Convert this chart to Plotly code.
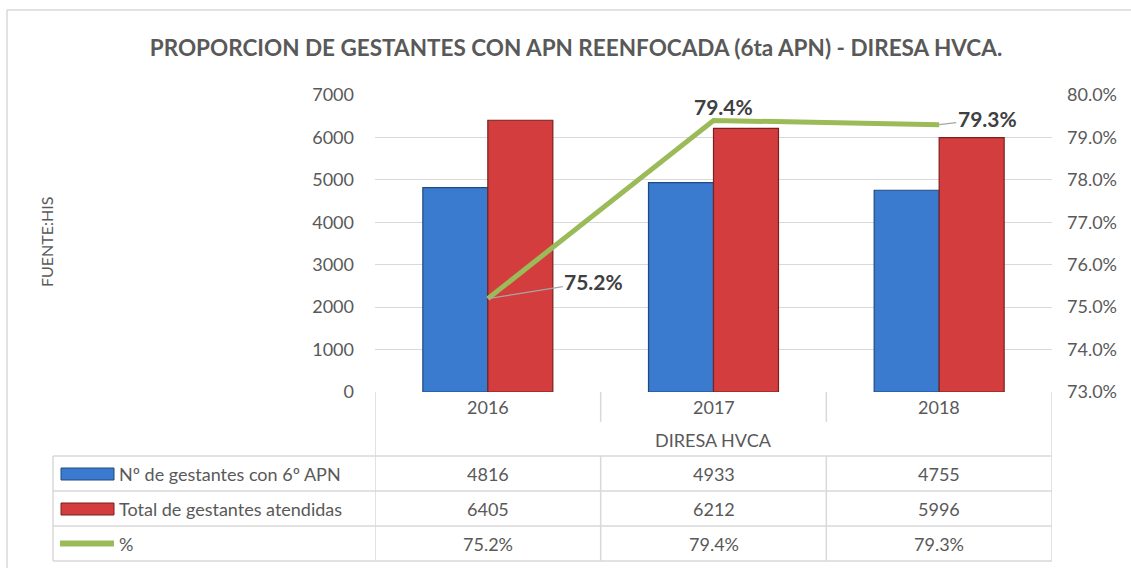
import plotly.graph_objects as go

# ---- data ----
categories = ["2016", "2017", "2018"]
group_label = "DIRESA HVCA"
series_names = ["Nº de gestantes con 6º APN", "Total de gestantes atendidas", "%"]
gestantes_6apn = [4816, 4933, 4755]
total_atendidas = [6405, 6212, 5996]
porcentaje = [0.752, 0.794, 0.793]
title_text = "PROPORCION DE GESTANTES CON APN REENFOCADA (6ta APN) - DIRESA HVCA."
source_text = "FUENTE:HIS"

W, H = 1131, 568
L, R, T, B = 375, 1052, 95, 392
FONT = "Lato"
GRAY = "#595959"
GRID = "#d9d9d9"
TXT = 18


def px2x(px):
    return (px - L) / (R - L)


def py2y(py):
    return (B - py) / (B - T)


fig = go.Figure()
fig.add_trace(go.Bar(
    x=categories, y=gestantes_6apn, name=series_names[0],
    marker=dict(color="#3a7bcf", line=dict(color="#1f4a80", width=1.2)),
))
fig.add_trace(go.Bar(
    x=categories, y=total_atendidas, name=series_names[1],
    marker=dict(color="#d43d3d", line=dict(color="#7a2020", width=1.2)),
))
fig.add_trace(go.Scatter(
    x=categories, y=porcentaje, name=series_names[2], yaxis="y2",
    mode="lines", line=dict(color="#9bbb59", width=5),
))

shapes = []
annotations = []

# outer chart border (left and top)
shapes.append(dict(type="line", xref="paper", yref="paper",
                   x0=px2x(7), x1=px2x(1140), y0=py2y(10), y1=py2y(10),
                   line=dict(color=GRID, width=1.5)))
shapes.append(dict(type="line", xref="paper", yref="paper",
                   x0=px2x(7), x1=px2x(7), y0=py2y(10), y1=py2y(575),
                   line=dict(color=GRID, width=1.5)))

# table grid
row_lines = [456, 491, 526, 561]
for ry in row_lines:
    shapes.append(dict(type="line", xref="paper", yref="paper",
                       x0=px2x(53), x1=1, y0=py2y(ry), y1=py2y(ry),
                       line=dict(color=GRID, width=1.5)))
shapes.append(dict(type="line", xref="paper", yref="paper",
                   x0=px2x(53), x1=px2x(53), y0=py2y(456), y1=py2y(561),
                   line=dict(color=GRID, width=1.5)))
n = len(categories)
for i in range(n + 1):
    xpos = i - 0.5
    if i in (0, n):
        segs = [(392, 561)]
    else:
        segs = [(392, 422), (456, 561)]
    for a, b in segs:
        shapes.append(dict(type="line", xref="x", yref="paper",
                           x0=xpos, x1=xpos, y0=py2y(a), y1=py2y(b),
                           line=dict(color=GRID, width=1.5)))

txt_font = dict(family=FONT, size=TXT, color=GRAY)

# category labels and group label
for i, c in enumerate(categories):
    annotations.append(dict(x=i, y=py2y(407), xref="x", yref="paper", text=c,
                            xanchor="center", yanchor="middle",
                            showarrow=False, font=txt_font))
annotations.append(dict(x=(n - 1) / 2, y=py2y(440), xref="x", yref="paper", text=group_label,
                        xanchor="center", yanchor="middle",
                        showarrow=False, font=txt_font))

# table rows
row_centers = [473.5, 508.5, 543.5]
row_texts = [
    [str(v) for v in gestantes_6apn],
    [str(v) for v in total_atendidas],
    [f"{v*100:.1f}%" for v in porcentaje],
]
for rc, texts in zip(row_centers, row_texts):
    for i, t in enumerate(texts):
        annotations.append(dict(x=i, y=py2y(rc), xref="x", yref="paper", text=t,
                                xanchor="center", yanchor="middle",
                                showarrow=False, font=txt_font))
for rc, name in zip(row_centers, series_names):
    annotations.append(dict(x=px2x(117), y=py2y(rc), xref="paper", yref="paper", text=name,
                            xanchor="left", yanchor="middle", showarrow=False,
                            font=txt_font))

# legend keys
shapes.append(dict(type="rect", xref="paper", yref="paper",
                   x0=px2x(61), x1=px2x(114), y0=py2y(468), y1=py2y(480),
                   fillcolor="#3a7bcf", line=dict(color="#1f4a80", width=1)))
shapes.append(dict(type="rect", xref="paper", yref="paper",
                   x0=px2x(61), x1=px2x(114), y0=py2y(503), y1=py2y(515),
                   fillcolor="#d43d3d", line=dict(color="#7a2020", width=1)))
shapes.append(dict(type="line", xref="paper", yref="paper",
                   x0=px2x(60), x1=px2x(114), y0=py2y(543.5), y1=py2y(543.5),
                   line=dict(color="#9bbb59", width=6)))

# data labels for line
lab_font = dict(family=FONT, size=21, color="#404040")
annotations.append(dict(x=0, y=porcentaje[0], xref="x", yref="y2",
                        text=f"<b>{porcentaje[0]*100:.1f}%</b>", showarrow=True,
                        arrowhead=0, arrowwidth=1.2, arrowcolor="#a6a6a6",
                        ax=106, ay=-17, font=lab_font))
annotations.append(dict(x=1, y=porcentaje[1], xref="x", yref="y2",
                        text=f"<b>{porcentaje[1]*100:.1f}%</b>", showarrow=False,
                        xanchor="center", yanchor="middle",
                        xshift=10, yshift=14, font=lab_font))
annotations.append(dict(x=2, y=porcentaje[2], xref="x", yref="y2",
                        text=f"<b>{porcentaje[2]*100:.1f}%</b>", showarrow=True,
                        arrowhead=0, arrowwidth=1.2, arrowcolor="#a6a6a6",
                        ax=48, ay=-6, font=lab_font))

# source label
annotations.append(dict(x=px2x(46), y=py2y(242), xref="paper", yref="paper",
                        text=source_text, textangle=-90, showarrow=False,
                        xanchor="center", yanchor="middle",
                        font=dict(family=FONT, size=16, color=GRAY)))

fig.update_layout(
    width=W, height=H,
    margin=dict(l=L, r=W - R, t=T, b=H - B),
    paper_bgcolor="white", plot_bgcolor="white",
    showlegend=False,
    barmode="group", bargap=0.424, bargroupgap=0,
    title=dict(text=f"<b>{title_text}</b>", x=576 / W, xref="container",
               xanchor="center", y=1 - 48 / H, yanchor="middle",
               font=dict(family=FONT, size=22.5, color=GRAY)),
    xaxis=dict(type="category", range=[-0.5, 2.5], showticklabels=False,
               showgrid=False, zeroline=False, showline=False, ticks=""),
    yaxis=dict(range=[0, 7000], dtick=1000, showgrid=True, gridcolor=GRID,
               gridwidth=1, zeroline=False, showline=False, ticks="",
               tickfont=dict(family=FONT, size=TXT, color=GRAY),
               ticklabelstandoff=20),
    yaxis2=dict(range=[0.73, 0.80], dtick=0.01, tickformat=".1%",
                overlaying="y", side="right", showgrid=False, zeroline=False,
                showline=False, ticks="",
                tickfont=dict(family=FONT, size=TXT, color=GRAY),
                ticklabelstandoff=14),
    shapes=shapes,
    annotations=annotations,
)

fig.write_html("out.html", config={"displayModeBar": False},
               post_script="document.body.style.margin='0';document.body.style.padding='0';")
